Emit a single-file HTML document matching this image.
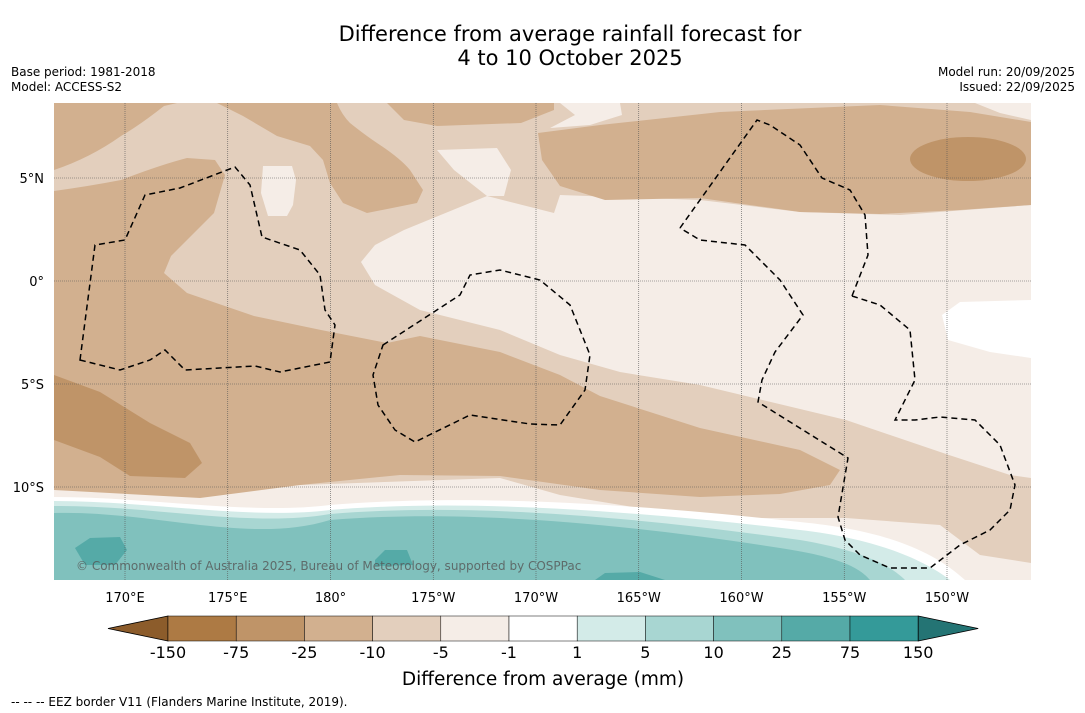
<!DOCTYPE html>
<html><head><meta charset="utf-8"><style>
body{margin:0;background:#fff;font-family:"Liberation Sans","DejaVu Sans",sans-serif;}
#wrap{position:relative;width:1085px;height:713px;overflow:hidden;}
.t{position:absolute;white-space:nowrap;}
</style></head><body>
<div id="wrap">
<div class="t" style="left:0;width:1140px;text-align:center;top:22px;font-size:21px;line-height:24px;font-family:'DejaVu Sans',sans-serif;">Difference from average rainfall forecast for<br>4 to 10 October 2025</div>
<div class="t" style="left:11px;top:65px;font-size:12px;font-family:'DejaVu Sans',sans-serif;line-height:15px">Base period: 1981-2018<br>Model: ACCESS-S2</div>
<div class="t" style="right:10px;top:65px;font-size:12px;text-align:right;font-family:'DejaVu Sans',sans-serif;line-height:15px">Model run: 20/09/2025<br>Issued: 22/09/2025</div>
<svg id="svg" width="1085" height="713" style="position:absolute;left:0;top:0">
<defs><clipPath id="mc"><rect x="54" y="103" width="977" height="477"/></clipPath></defs>
<g clip-path="url(#mc)">
<rect x="54" y="103" width="977" height="477" fill="#e3cfbd"/>
<path fill="#f5ede7" d="M54,490 L300,485 L500,478 L560,495 L700,518 L846,518 L940,525 L980,555 L1031,563 L1031,580 L54,580 Z"/>
<path fill="#f5ede7" d="M487,196 L554,213 L560,195 L700,200 L800,212 L900,215 L1031,205 L1031,478 L1010,475 L949,455 L846,420 L700,385 L620,372 L560,355 L500,330 L420,310 L375,285 L361,262 L375,245 L404,230 Z"/>
<path fill="#d2b08f" d="M54,103 L177,103 L164,106 Q140,125 121,136 Q90,158 54,170 Z"/>
<path fill="#d2b08f" d="M217,103 L337,103 Q342,115 350,123 Q365,135 377,143 Q400,158 410,170 L423,190 L417,203 L367,213 L343,203 L330,183 L323,160 L310,146 L277,136 L243,116 Z"/>
<path fill="#d2b08f" d="M54,191 Q90,186 121,180 Q160,165 187,158 L215,160 L225,175 L214,213 L171,256 L164,273 L187,293 L254,316 L321,330 L387,343 L420,336 L500,352 L560,375 L600,396 L700,428 L800,450 L840,470 L830,485 L780,494 L700,497 L600,490 L500,476 L400,475 L300,485 L200,498 L54,490 Z"/>
<path fill="#bf9468" d="M54,375 L100,392 L150,423 L190,443 L202,463 L185,478 L130,476 L100,457 L54,440 Z"/>
<path fill="#d2b08f" d="M387,103 L554,103 L554,110 L521,123 L437,126 L404,120 Z"/>
<path fill="#f5ede7" d="M560,103 L620,103 L622,115 L590,125 L550,128 L575,115 Z"/>
<path fill="#d2b08f" d="M538,133 L600,125 L720,112 L880,105 L970,112 L1031,122 L1031,205 L960,210 L880,214 L800,212 L700,198 L605,200 L560,186 L542,160 Z"/>
<path fill="#f5ede7" d="M975,103 L1031,103 L1031,120 L1000,113 Z"/>
<ellipse cx="968" cy="159" rx="58" ry="22" fill="#bf9468"/>
<path fill="#f5ede7" d="M437,150 L497,148 L511,170 L504,196 L487,196 L454,170 Z"/>
<path fill="#f5ede7" d="M263,166 L292,166 L296,180 L293,205 L287,216 L268,216 L261,193 Z"/>
<path fill="#ffffff" d="M1031,300 L960,302 L942,315 L948,340 L990,352 L1031,358 Z"/>
<g id="bands"></g>
<g id="grid"></g>
<g fill="none" stroke="#000" stroke-width="1.5" stroke-dasharray="6,4">
<path d="M80,360 L95,245 L125,240 L145,195 L180,188 L235,167 L250,185 L262,237 L300,250 L320,275 L325,310 L335,325 L330,362 L280,372 L255,366 L185,370 L165,350 L150,360 L120,370 Z"/>
<path d="M383,345 L460,295 L470,275 L500,270 L540,280 L570,305 L590,355 L585,390 L560,425 L530,424 L470,415 L415,442 L395,430 L378,405 L373,375 Z"/>
<path d="M680,228 L757,120 L770,125 L800,145 L822,178 L850,190 L865,215 L868,255 L852,296 M852,296 L880,305 L910,330 L915,380 L895,420 L915,420 L940,417 L975,420 L1000,445 L1015,485 L1010,510 L990,530 L960,545 L930,568 L890,568 L860,555 L845,540 L838,517 L848,458 L758,402 L762,380 L775,352 L803,315 L780,280 L745,245 L700,240 L680,228"/>
</g>
<text x="76" y="570" font-size="12" fill="#555" fill-opacity="0.8" font-family="DejaVu Sans, sans-serif">© Commonwealth of Australia 2025, Bureau of Meteorology, supported by COSPPac</text>
</g>
<g id="axes"></g>
<g id="cbar"></g>
<text x="543" y="685" text-anchor="middle" font-size="18.5" font-family="DejaVu Sans, sans-serif">Difference from average (mm)</text>
<text x="11" y="706" font-size="12" font-family="DejaVu Sans, sans-serif">--  --  -- EEZ border V11 (Flanders Marine Institute, 2019).</text>
</svg>
</div>
<script>
const levelLabels=["-150","-75","-25","-10","-5","-1","1","5","10","25","75","150"];
const levelColors=["#ad7a44","#bf9468","#d2b08f","#e3cfbd","#f5ede7","#ffffff","#d3ebe8","#a8d6d2","#80c1bd","#55aaa7","#349a99"];
const extendColors=["#8c5c2b","#247474"];
const lonLabels=["170°E","175°E","180°","175°W","170°W","165°W","160°W","155°W","150°W"];
const lonValues=[170,175,180,185,190,195,200,205,210];
const latLabels=["5°N","0°","5°S","10°S"];
const latValues=[5,0,-5,-10];
const NS="http://www.w3.org/2000/svg";
function mk(t,a,p){const e=document.createElementNS(NS,t);for(const k in a)e.setAttribute(k,a[k]);p.appendChild(e);return e;}
const xLon=v=>125+(v-170)*20.55;
const yLat=v=>281-v*20.6;
const grid=document.getElementById('grid'),axes=document.getElementById('axes');
lonValues.forEach((v,i)=>{
 const l=mk('line',{x1:xLon(v),x2:xLon(v),y1:103,y2:580,stroke:'#555','stroke-width':0.6,'stroke-dasharray':'1,1'},grid);
 
 
 const t=mk('text',{x:xLon(v),y:602,'text-anchor':'middle','font-size':13,'font-family':'DejaVu Sans, sans-serif'},axes);
 t.textContent=lonLabels[i];
 
 
});
latValues.forEach((v,i)=>{
 const l=mk('line',{x1:54,x2:1031,y1:yLat(v),y2:yLat(v),stroke:'#555','stroke-width':0.6,'stroke-dasharray':'1,1'},grid);
 
 
 const t=mk('text',{x:44,y:yLat(v)+5,'text-anchor':'end','font-size':13,'font-family':'DejaVu Sans, sans-serif'},axes);
 t.textContent=latLabels[i];
 
 
});
const bands=document.getElementById('bands');
const bandDefs=[
 ["#ffffff","M54,497 C150,497 250,515 330,505 C450,495 600,500 800,522 C880,530 930,548 965,580 L54,580 Z"],
 ["#d3ebe8","M54,501 C150,501 250,520 330,510 C450,500 600,507 800,530 C870,538 920,557 950,580 L54,580 Z"],
 ["#a8d6d2","M54,506 C150,505 250,528 330,514 C450,504 600,512 800,540 C860,550 890,565 905,580 L54,580 Z"],
 ["#80c1bd","M54,513 C150,510 250,545 330,520 C450,510 600,520 780,548 C840,557 860,568 870,580 L54,580 Z"],
 ["#55aaa7","M75,548 L90,538 L120,537 L127,550 L115,565 L85,565 Z"],
 ["#55aaa7","M375,560 L385,550 L407,550 L413,565 L375,566 Z"],
 ["#55aaa7","M595,580 L605,573 L640,572 L665,580 Z"]
];
bandDefs.forEach(b=>{const p=mk('path',{d:b[1],fill:b[0]},bands);
 
 });
const cb=document.getElementById('cbar');
const x0=168,w=68.2,y0=616,h=25;
const lt=mk('polygon',{points:`108,${y0+h/2} ${x0},${y0} ${x0},${y0+h}`,fill:extendColors[0],stroke:'#000','stroke-width':0.8},cb);


levelColors.forEach((c,i)=>{
 const r=mk('rect',{x:x0+i*w,y:y0,width:w,height:h,fill:c,stroke:'#000','stroke-width':0.5},cb);
 
 
});
const xe=x0+levelColors.length*w;
const rt=mk('polygon',{points:`${xe},${y0} ${xe+60},${y0+h/2} ${xe},${y0+h}`,fill:extendColors[1],stroke:'#000','stroke-width':0.8},cb);


levelLabels.forEach((s,i)=>{
 const t=mk('text',{x:x0+i*w,y:658,'text-anchor':'middle','font-size':16,'font-family':'DejaVu Sans, sans-serif'},cb);
 t.textContent=s;
 
 
});
</script>
</body></html>
